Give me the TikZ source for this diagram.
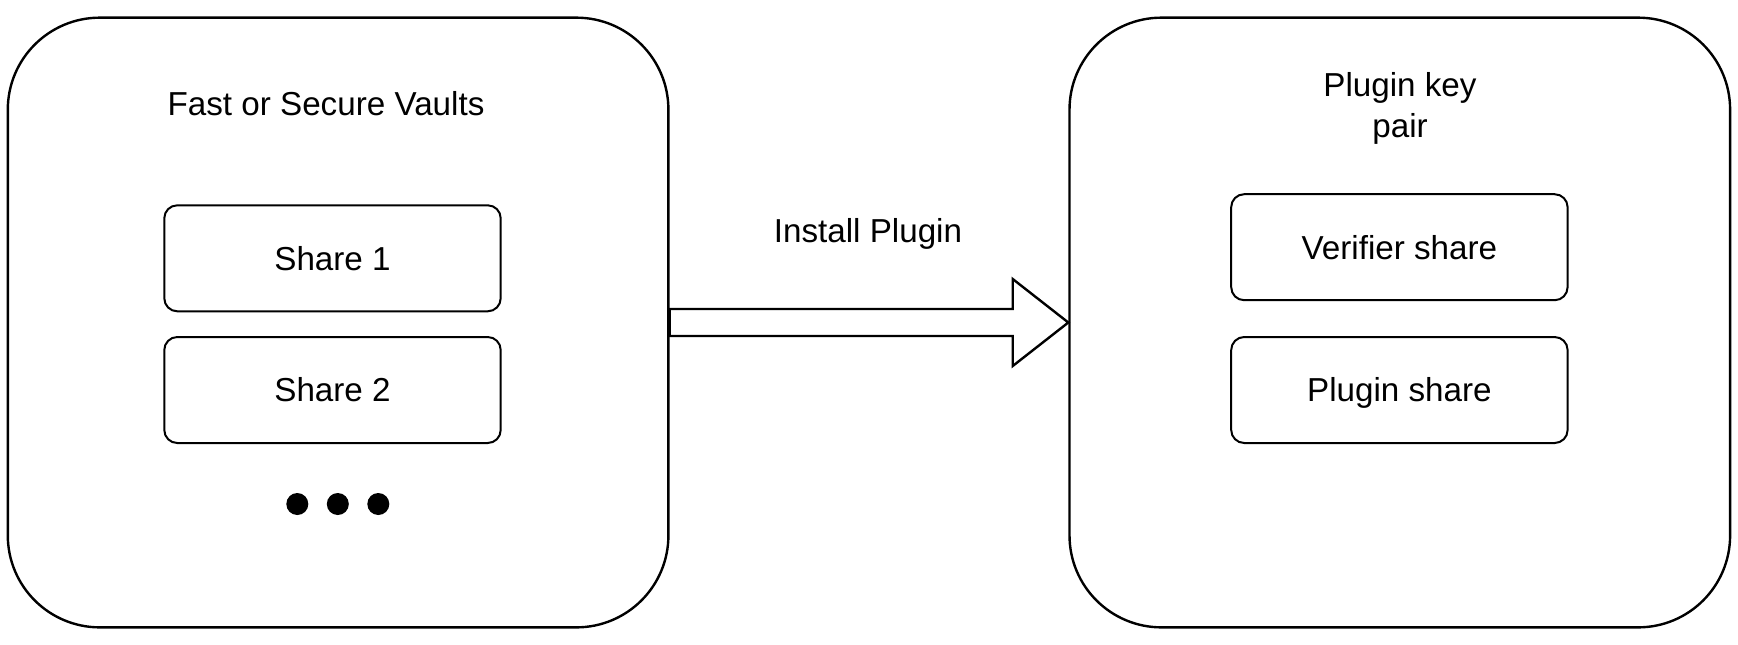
\documentclass[tikz,border=0pt]{standalone}
\usepackage{fontspec}
\setmainfont{Liberation Sans}
\usetikzlibrary{calc}
\begin{document}
\begin{tikzpicture}[x=0.5pt,y=-0.5pt,
  font=\fontsize{16.6}{20.5}\selectfont,
  capcenter/.style={text height=11.9pt,text depth=0pt},
  bigbox/.style={draw,line width=1.2pt,rounded corners=46pt,minimum width=330.3pt,minimum height=304.85pt,inner sep=0pt},
  sharebox/.style={draw,line width=1pt,rounded corners=6.5pt,minimum width=168.2pt,minimum height=53pt,inner sep=0pt,capcenter},
  dot/.style={circle,fill=black,minimum size=11pt,inner sep=0pt},
  fatarrow/.style={draw,line width=1.2pt,fill=white,line join=miter}]
\useasboundingbox (0,0) rectangle (1738,644);
\node[bigbox] (L) at (338.1,322.5) {};
\node[bigbox] (R) at (1399.8,322.5) {};
\node[capcenter] (Lt) at (326,104) {Fast or Secure Vaults};
\node[align=center] (Rt) at (1400,108) {Plugin key\\pair};
\node[sharebox] (s1) at (332.5,258.3) {Share 1};
\node[sharebox] (s2) at (332.5,390) {Share 2};
\node[dot] (d1) at (297.3,504) {};
\node[dot] (d2) at (337.8,504) {};
\node[dot] (d3) at (378.3,504) {};
\node[sharebox] (v) at (1399.4,247.2) {Verifier share};
\node[sharebox] (p) at (1399.4,390) {Plugin share};
\node[capcenter] (lbl) at (868,230.5) {Install Plugin};
\draw[fatarrow] ($(L.east)+(0,-13.5)$) -- ($(R.west)+(-55.6,-13.5)$) -- ($(R.west)+(-55.6,-43.5)$) -- (R.west) -- ($(R.west)+(-55.6,43.5)$) -- ($(R.west)+(-55.6,13.5)$) -- ($(L.east)+(0,13.5)$) -- cycle;
\end{tikzpicture}
\end{document}
